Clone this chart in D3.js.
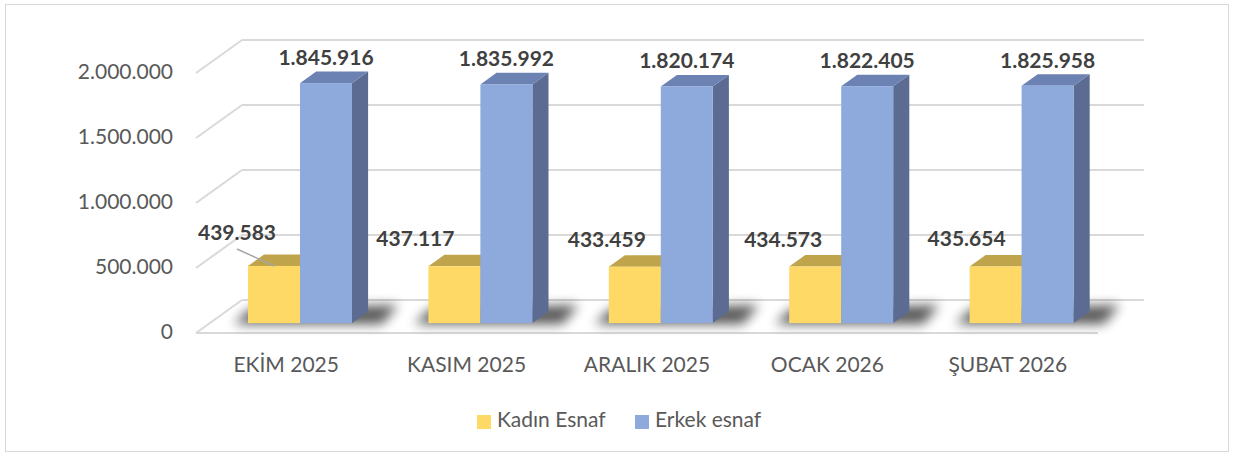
<!DOCTYPE html>
<html><head><meta charset="utf-8">
<script src="https://cdn.jsdelivr.net/npm/d3@7"></script>
<style>
html,body{margin:0;padding:0;background:#fff;}
svg{display:block;font-family:Lato,"Open Sans",sans-serif;}
</style></head>
<body>
<svg id="chart" width="1235" height="455"></svg>
<script>
// ---- data ----
const categories = ["EKİM 2025", "KASIM 2025", "ARALIK 2025", "OCAK 2026", "ŞUBAT 2026"];
const seriesNames = ["Kadın Esnaf", "Erkek esnaf"];
const kadinEsnaf = [439583, 437117, 433459, 434573, 435654];
const erkekEsnaf = [1845916, 1835992, 1820174, 1822405, 1825958];
const yTickValues = [0, 500000, 1000000, 1500000, 2000000];

// ---- layout / style ----
const W = 1235, H = 455;
const floorLeft = 196, floorRight = 1098, floorFront = 333;
const DX = 46, DY = -33;              // wall depth
const barFront = 0.3, barDepth = 0.35; // bar depth fraction
const groupWidth = 104;
const colors = {
  front: ["#ffd966", "#8eaadc"],
  top:   ["#c0a44c", "#6b82b3"],
  side:  ["#a58c3c", "#5b6b91"]
};
const kadinLabelNudge = [-11, -13, -2, -6, -3];

const fmt = d3.formatLocale({decimal: ",", thousands: ".", grouping: [3], currency: ["", ""]}).format(",d");

const svg = d3.select("#chart");
svg.append("rect").attr("x", 5.5).attr("y", 4.5).attr("width", 1223).attr("height", 447)
  .attr("fill", "#fff").attr("stroke", "#d9d9d9").attr("stroke-width", 1);

const y = d3.scaleLinear().domain([0, 2000000]).range([floorFront, 73]);
const x0 = d3.scaleBand().domain(categories).range([floorLeft, floorRight]);
const x1 = d3.scaleBand().domain(seriesNames).range([0, groupWidth]);

const fdx = DX * barFront, fdy = DY * barFront;
const bdx = DX * barDepth, bdy = DY * barDepth;
const baseY = y(0) + fdy;

// gridlines (back wall + left wall)
const grid = svg.append("g").attr("stroke", "#d9d9d9").attr("stroke-width", 2).attr("fill", "none");
yTickValues.forEach(t => {
  const yy = y(t);
  grid.append("line").attr("x1", floorLeft + DX).attr("x2", floorRight + DX)
    .attr("y1", yy + DY).attr("y2", yy + DY);
  grid.append("line").attr("x1", floorLeft).attr("y1", yy)
    .attr("x2", floorLeft + DX).attr("y2", yy + DY);
});
grid.append("line").attr("x1", floorLeft).attr("x2", floorRight)
  .attr("y1", y(0)).attr("y2", y(0));

// y-axis labels
svg.append("g").selectAll("text").data(yTickValues).join("text")
  .attr("x", 173).attr("y", d => y(d) + 1).attr("text-anchor", "end")
  .attr("dominant-baseline", "middle").attr("fill", "#595959").attr("font-size", 21)
  .text(d => fmt(d));

// x-axis labels
svg.append("g").selectAll("text").data(categories).join("text")
  .attr("x", d => x0(d) + x0.bandwidth() / 2).attr("y", 372)
  .attr("text-anchor", "middle").attr("fill", "#595959").attr("font-size", 21)
  .text(d => d);

// shadow filter
const defs = svg.append("defs");
defs.append("filter").attr("id", "blur").attr("x", "-50%").attr("y", "-200%")
  .attr("width", "200%").attr("height", "500%")
  .append("feGaussianBlur").attr("stdDeviation", 6);

const groupX = c => x0(c) + (x0.bandwidth() - groupWidth) / 2 + fdx;

// shadows
const shadows = svg.append("g");
categories.forEach(c => {
  const xl = groupX(c), xr = xl + groupWidth;
  shadows.append("polygon")
    .attr("points", [[xl - 14, baseY + 1], [xl + 2, baseY - 14], [xr + bdx + 30, baseY - 18], [xr + bdx + 14, baseY + 1]]
      .map(p => p.join(",")).join(" "))
    .attr("fill", "#000").attr("opacity", 0.65).attr("filter", "url(#blur)");
});

// bars
const seriesData = [kadinEsnaf, erkekEsnaf];
seriesData.forEach((vals, si) => {
  const g = svg.append("g");
  categories.forEach((c, i) => {
    const xl = groupX(c) + x1(seriesNames[si]);
    const w = x1.bandwidth();
    const yt = y(vals[i]) + fdy;
    g.append("polygon").attr("fill", colors.side[si])
      .attr("points", [[xl + w, yt], [xl + w + bdx, yt + bdy], [xl + w + bdx, baseY + bdy], [xl + w, baseY]].map(p => p.join(",")).join(" "));
    g.append("polygon").attr("fill", colors.top[si])
      .attr("points", [[xl, yt], [xl + bdx, yt + bdy], [xl + w + bdx, yt + bdy], [xl + w, yt]].map(p => p.join(",")).join(" "));
    g.append("rect").attr("x", xl).attr("y", yt).attr("width", w).attr("height", baseY - yt)
      .attr("fill", colors.front[si]);
  });
});

// data labels - Erkek
svg.append("g").selectAll("text").data(erkekEsnaf).join("text")
  .attr("x", (d, i) => groupX(categories[i]) + x1(seriesNames[1]) + x1.bandwidth() / 2)
  .attr("y", d => y(d) + fdy - 18)
  .attr("text-anchor", "middle").attr("font-weight", "bold").attr("font-size", 21)
  .attr("fill", "#404040").text(d => fmt(d));

// data labels - Kadın
const kl = svg.append("g");
kadinEsnaf.forEach((d, i) => {
  const xl = groupX(categories[i]) + x1(seriesNames[0]);
  const yt = y(d) + fdy;
  const lx = xl + kadinLabelNudge[i];
  const ly = i === 0 ? yt - 26 : yt - 20;
  if (i === 0) {
    kl.append("line").attr("x1", lx).attr("y1", ly + 9).attr("x2", xl + x1.bandwidth() / 2).attr("y2", yt)
      .attr("stroke", "#a6a6a6").attr("stroke-width", 1.5);
  }
  kl.append("text").attr("x", lx).attr("y", ly).attr("text-anchor", "middle")
    .attr("font-weight", "bold").attr("font-size", 21).attr("fill", "#404040").text(fmt(d));
});

// legend
const legend = svg.append("g");
const legendX = [477, 635];
seriesNames.forEach((s, i) => {
  legend.append("rect").attr("x", legendX[i]).attr("y", 415).attr("width", 14).attr("height", 14)
    .attr("fill", colors.front[i]);
  legend.append("text").attr("x", legendX[i] + 20).attr("y", 422).attr("dominant-baseline", "middle")
    .attr("font-size", 21).attr("fill", "#595959").text(s);
});
</script>
</body></html>
